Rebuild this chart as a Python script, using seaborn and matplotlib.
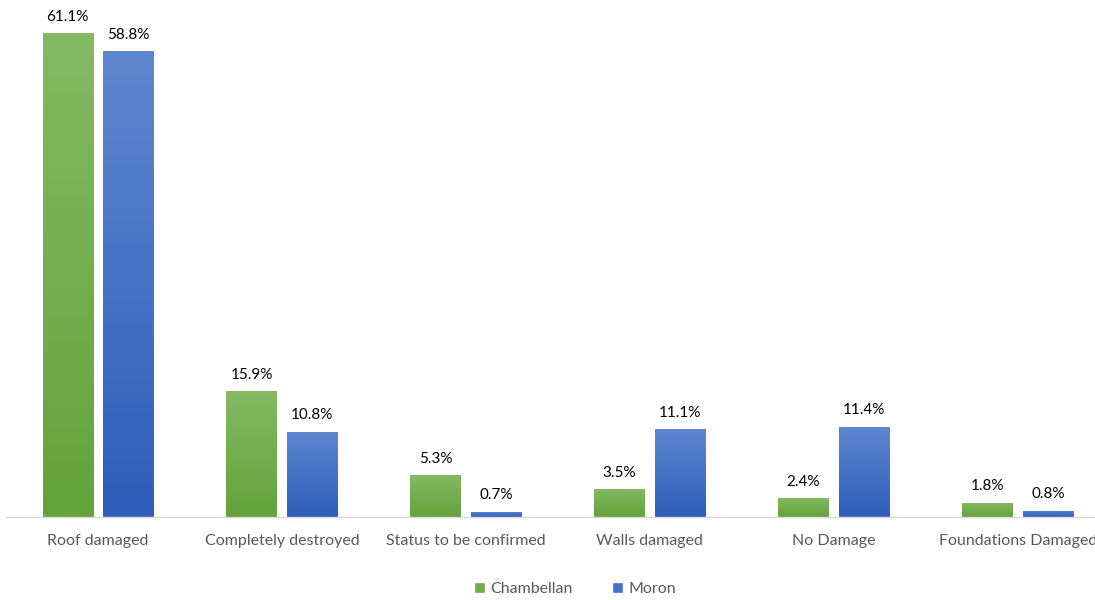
import numpy as np
import pandas as pd
import matplotlib
matplotlib.use("Agg")
import matplotlib.pyplot as plt
import seaborn as sns
from matplotlib.colors import LinearSegmentedColormap
from matplotlib.patches import Patch

categories = ["Roof damaged", "Completely destroyed", "Status to be confirmed",
              "Walls damaged", "No Damage", "Foundations Damaged"]
chambellan = [61.1, 15.9, 5.3, 3.5, 2.4, 1.8]
moron = [58.8, 10.8, 0.7, 11.1, 11.4, 0.8]
series = ["Chambellan", "Moron"]

df = pd.DataFrame({
    "category": categories * 2,
    "value": chambellan + moron,
    "series": [series[0]] * len(categories) + [series[1]] * len(categories),
})

sns.set_theme(style="white")
plt.rcParams["font.family"] = ["Lato", "DejaVu Sans"]

fig = plt.figure(figsize=(10.95, 6), dpi=100)
ax = fig.add_axes([0.0055, 0.138, 1.008, 0.845])

palette = {"Chambellan": "#70AD47", "Moron": "#4472C4"}
sns.barplot(data=df, x="category", y="value", hue="series", order=categories,
            hue_order=series, palette=palette, width=0.663, gap=0.18,
            legend=False, ax=ax, saturation=1)

grads = {
    "Chambellan": LinearSegmentedColormap.from_list("g", ["#63A33A", "#84B963"]),
    "Moron": LinearSegmentedColormap.from_list("b", ["#2E5EBA", "#5E87D0"]),
}
ax.set_ylim(0, 64)
ax.set_xlim(-0.5, len(categories) - 0.5)

grad = np.linspace(0, 1, 256).reshape(-1, 1)
for i, cont in enumerate(ax.containers):
    s = series[i]
    for bar, val in zip(cont, chambellan if i == 0 else moron):
        x0, w = bar.get_x(), bar.get_width()
        h = bar.get_height()
        im = ax.imshow(grad, cmap=grads[s], origin="lower", aspect="auto",
                       extent=[x0, x0 + w, 0, h], zorder=bar.get_zorder() + 0.1)
        im.set_clip_path(bar)
        ax.text(x0 + w / 2, h + 1.2, f"{val:.1f}%", ha="center", va="bottom",
                fontsize=11, color="#000000")

ax.set_xlim(-0.5, len(categories) - 0.5)
ax.set_ylim(0, 64)
ax.set_xlabel("")
ax.set_ylabel("")
ax.set_yticks([])
ax.tick_params(axis="x", length=0, pad=12, labelsize=11.5, labelcolor="#595959")
for sp in ["top", "right", "left"]:
    ax.spines[sp].set_visible(False)
ax.spines["bottom"].set_color("#D9D9D9")
ax.spines["bottom"].set_linewidth(1)

handles = [Patch(facecolor="#70AD47", label="Chambellan"),
           Patch(facecolor="#4472C4", label="Moron")]
fig.legend(handles=handles, loc="center", bbox_to_anchor=(0.525, 0.018),
           ncol=2, frameon=False, fontsize=11.5, labelcolor="#595959",
           handlelength=0.7, handleheight=0.7, handletextpad=0.3,
           columnspacing=2.5)

fig.savefig("out.png", dpi=100)
